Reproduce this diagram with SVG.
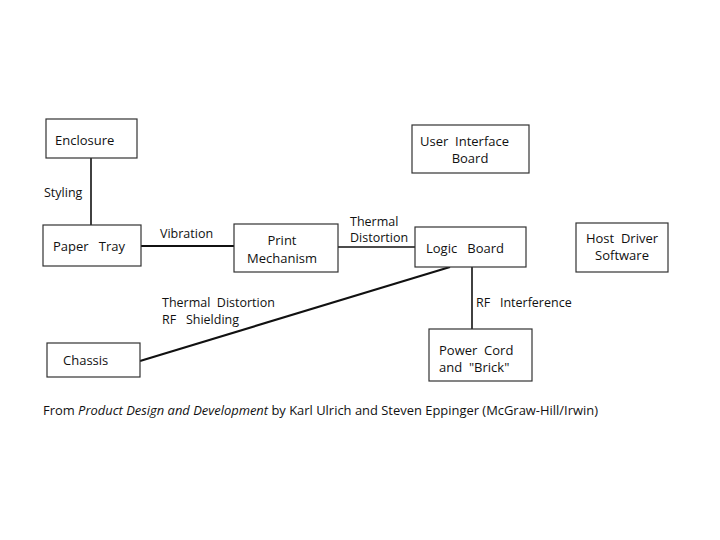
<svg xmlns="http://www.w3.org/2000/svg" width="720" height="540" viewBox="0 0 720 540">
<style>
.box{fill:#fff;stroke:#333;stroke-width:1.2}
.t{font-family:"Open Sans","Liberation Sans",sans-serif;font-size:13px;fill:#111;white-space:pre}
.l{font-family:"Open Sans","Liberation Sans",sans-serif;font-size:12.5px;fill:#111;white-space:pre}
.c{stroke:#111;fill:none}
</style>
<rect width="720" height="540" fill="#fff"/>
<g id="connectors">
<line class="c" x1="91" y1="158" x2="91" y2="225" stroke-width="1.6"/>
<line class="c" x1="141" y1="246" x2="234" y2="246" stroke-width="2.2"/>
<line class="c" x1="338" y1="247" x2="415" y2="247" stroke-width="1.3"/>
<line class="c" x1="140" y1="361" x2="450" y2="267" stroke-width="2.2"/>
<line class="c" x1="472" y1="267" x2="472" y2="329" stroke-width="1.6"/>
<text class="l" x="44" y="197">Styling</text>
<text class="l" x="160" y="238">Vibration</text>
<text class="l" x="350" y="226">Thermal</text>
<text class="l" x="350" y="242">Distortion</text>
<text class="l" x="162" y="307">Thermal  Distortion</text>
<text class="l" x="162" y="324">RF   Shielding</text>
<text class="l" x="476" y="307">RF   Interference</text>
</g>
<g id="enclosure"><rect class="box" x="46" y="119" width="91" height="39"/><text class="t" x="55" y="145">Enclosure</text></g>
<g id="ui-board"><rect class="box" x="412" y="125" width="117" height="48"/><text class="t" x="420" y="146">User  Interface</text><text class="t" x="470" y="163" text-anchor="middle">Board</text></g>
<g id="paper-tray"><rect class="box" x="43" y="225" width="98" height="41"/><text class="t" x="53" y="251">Paper   Tray</text></g>
<g id="print-mechanism"><rect class="box" x="234" y="224" width="104" height="48"/><text class="t" x="282" y="245" text-anchor="middle">Print</text><text class="t" x="282" y="263" text-anchor="middle">Mechanism</text></g>
<g id="logic-board"><rect class="box" x="415" y="227" width="111" height="40"/><text class="t" x="426" y="253">Logic   Board</text></g>
<g id="host-driver"><rect class="box" x="576" y="223" width="92" height="49"/><text class="t" x="622" y="243" text-anchor="middle">Host  Driver</text><text class="t" x="622" y="260" text-anchor="middle">Software</text></g>
<g id="chassis"><rect class="box" x="47" y="343" width="93" height="34"/><text class="t" x="63" y="365">Chassis</text></g>
<g id="power-cord"><rect class="box" x="429" y="329" width="103" height="52"/><text class="t" x="439" y="355">Power  Cord</text><text class="t" x="439" y="372">and  "Brick"</text></g>
<text class="l" x="43" y="415" textLength="555" lengthAdjust="spacingAndGlyphs">From <tspan font-style="italic">Product Design and Development</tspan> by Karl Ulrich and Steven Eppinger (McGraw-Hill/Irwin)</text>
</svg>
